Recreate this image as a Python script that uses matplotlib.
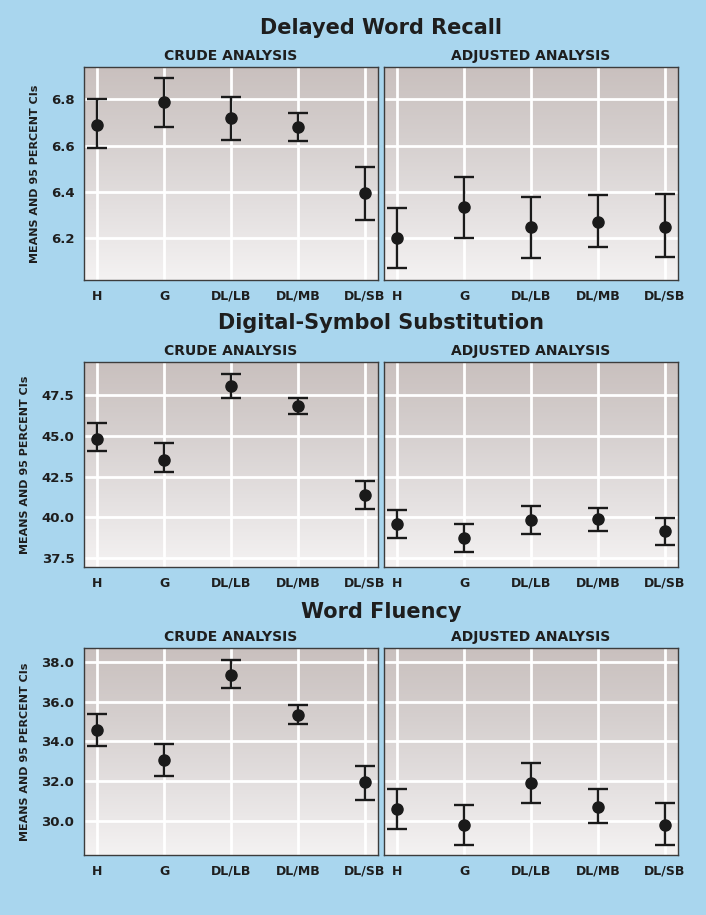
import numpy as np
import matplotlib
matplotlib.use("Agg")
import matplotlib.pyplot as plt
from matplotlib.colors import LinearSegmentedColormap

groups = ["H", "G", "DL/LB", "DL/MB", "DL/SB"]

# Delayed Word Recall
dwr_crude_mean = [6.69, 6.787, 6.721, 6.681, 6.394]
dwr_crude_lo = [6.588, 6.682, 6.625, 6.622, 6.279]
dwr_crude_hi = [6.80, 6.892, 6.809, 6.742, 6.506]
dwr_adj_mean = [6.20, 6.334, 6.248, 6.270, 6.248]
dwr_adj_lo = [6.071, 6.202, 6.117, 6.164, 6.118]
dwr_adj_hi = [6.332, 6.466, 6.380, 6.385, 6.391]

# Digital-Symbol Substitution
dss_crude_mean = [44.84, 43.55, 48.07, 46.86, 41.35]
dss_crude_lo = [44.08, 42.81, 47.34, 46.37, 40.49]
dss_crude_hi = [45.82, 44.55, 48.81, 47.34, 42.21]
dss_adj_mean = [39.59, 38.71, 39.82, 39.90, 39.16]
dss_adj_lo = [38.71, 37.85, 38.95, 39.16, 38.28]
dss_adj_hi = [40.43, 39.57, 40.68, 40.59, 39.98]

# Word Fluency
wf_crude_mean = [34.56, 33.05, 37.36, 35.33, 31.93]
wf_crude_lo = [33.77, 32.25, 36.67, 34.85, 31.02]
wf_crude_hi = [35.38, 33.86, 38.08, 35.82, 32.75]
wf_adj_mean = [30.60, 29.76, 31.91, 30.68, 29.76]
wf_adj_lo = [29.59, 28.76, 30.90, 29.86, 28.76]
wf_adj_hi = [31.62, 30.80, 32.93, 31.59, 30.90]

titles = ["Delayed Word Recall", "Digital-Symbol Substitution", "Word Fluency"]
yticks = [[6.2, 6.4, 6.6, 6.8], [37.5, 40.0, 42.5, 45.0, 47.5], [30.0, 32.0, 34.0, 36.0, 38.0]]
ylims = [(6.02, 6.94), (36.95, 49.55), (28.27, 38.70)]

rows = [
    [(dwr_crude_mean, dwr_crude_lo, dwr_crude_hi), (dwr_adj_mean, dwr_adj_lo, dwr_adj_hi)],
    [(dss_crude_mean, dss_crude_lo, dss_crude_hi), (dss_adj_mean, dss_adj_lo, dss_adj_hi)],
    [(wf_crude_mean, wf_crude_lo, wf_crude_hi), (wf_adj_mean, wf_adj_lo, wf_adj_hi)],
]

W, H = 706, 915
bg = "#a9d6ee"
txt = "#1e1e1e"
fig = plt.figure(figsize=(W / 100, H / 100), dpi=100, facecolor=bg)

# panel boxes in pixels: (top, bottom)
row_px = [(67, 280), (362, 567), (648, 855)]
col_px = [(84, 378), (384, 678)]
title_y = [28, 323, 612]

grad = LinearSegmentedColormap.from_list("g", ["#f4f2f2", "#e4e0e0", "#d5cfce", "#c9c0be"])
gimg = np.linspace(0, 1, 256).reshape(-1, 1)

x = np.arange(1, 6)
for r in range(3):
    top, bot = row_px[r]
    fig.text(381 / W, 1 - title_y[r] / H, titles[r], ha="center", va="center",
             fontsize=15, fontweight="heavy", color=txt)
    for c in range(2):
        l, rr = col_px[c]
        ax = fig.add_axes([l / W, 1 - bot / H, (rr - l) / W, (bot - top) / H])
        ax.imshow(gimg, cmap=grad, aspect="auto", extent=[0, 1, 0, 1], origin="lower",
                  transform=ax.transAxes, zorder=0)
        mean, lo, hi = rows[r][c]
        mean = np.array(mean)
        err = [mean - np.array(lo), np.array(hi) - mean]
        ax.errorbar(x, mean, yerr=err, fmt="o", color="#1a1a1a", ms=8, elinewidth=1.7,
                    capsize=7.5, capthick=1.7, zorder=3)
        ax.set_xlim(0.8, 5.2)
        ax.set_ylim(*ylims[r])
        ax.set_xticks(x)
        ax.set_xticklabels(groups, fontsize=9, fontweight="bold", color=txt)
        ax.set_yticks(yticks[r])
        if c == 0:
            ax.set_yticklabels(["{:.1f}".format(v) for v in yticks[r]], fontsize=9.5,
                               fontweight="bold", color=txt)
            ax.set_ylabel("MEANS AND 95 PERCENT CIs", fontsize=8, fontweight="bold",
                          color=txt, labelpad=8)
        else:
            ax.set_yticklabels([])
        ax.tick_params(length=0, pad=7)
        ax.grid(True, color="white", lw=2, zorder=1)
        ax.set_axisbelow(True)
        for s in ax.spines.values():
            s.set_color("#3c3c3c")
            s.set_linewidth(1)
        ax.set_title("CRUDE ANALYSIS" if c == 0 else "ADJUSTED ANALYSIS",
                     fontsize=10, fontweight="bold", color=txt, pad=5)

fig.savefig("out.png", dpi=100, facecolor=bg)
